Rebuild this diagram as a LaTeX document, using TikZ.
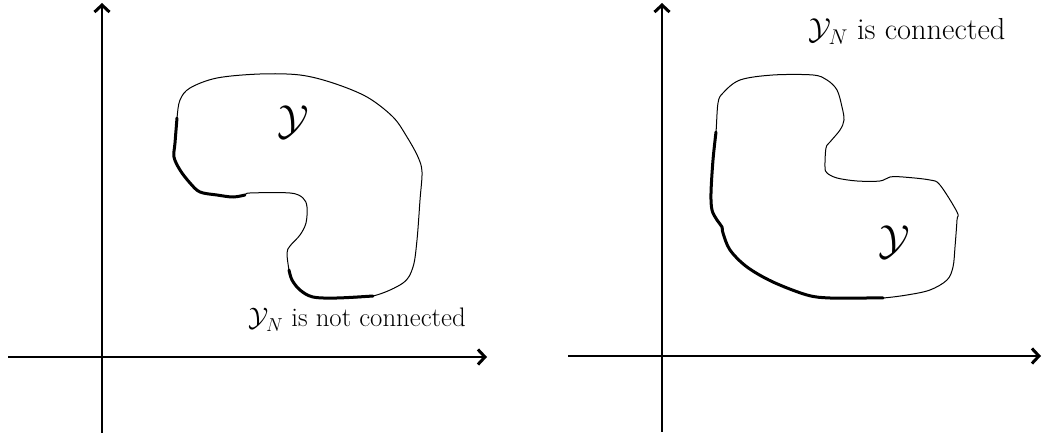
\RequirePackage{fix-cm}
\documentclass[tikz,border=0pt]{standalone}
\usetikzlibrary{arrows.meta}
\begin{document}
\begin{tikzpicture}[x=1pt,y=-1pt,
  axis/.style={line width=1.3pt,-{Straight Barb[length=7pt,width=15pt,line width=3pt]}},
  thin/.style={line width=1pt},
  bold/.style={line width=3pt,line cap=round},
  lbll/.style={font=\fontsize{26.8}{33}\selectfont,inner sep=0pt},
  lblr/.style={font=\fontsize{30.4}{37}\selectfont,inner sep=0pt},
  big/.style={font=\fontsize{42}{50}\selectfont,inner sep=0pt}]
\useasboundingbox (0,0) rectangle (1042,435);
% left axes
\coordinate (lx0) at (8,357); \coordinate (lx1) at (487,357);
\coordinate (ly0) at (102,433); \coordinate (ly1) at (102,3);
\draw[axis] (lx0) -- (lx1);
\draw[axis] (ly0) -- (ly1);
% right axes
\coordinate (rx0) at (568,356); \coordinate (rx1) at (1041,356);
\coordinate (ry0) at (662,432); \coordinate (ry1) at (662,3);
\draw[axis] (rx0) -- (rx1);
\draw[axis] (ry0) -- (ry1);
% left shape
\draw[thin] plot[smooth cycle,tension=0.55] coordinates {
 (177,118) (180,100) (190,88) (217,78) (260,74) (300,75) (333,83) (367,97) (393,117)
 (407,137) (418,157) (422,172) (420,200) (417,240) (413,267) (403,283) (373,296)
 (337,298) (313,297) (300,290) (292,280) (289,270) (287,253) (290,246) (300,235)
 (306,223) (307,207) (303,198) (290,193) (250,193) (245,195) (233,197) (217,195)
 (200,192) (190,183) (180,170) (174,157) (175,143)};
\draw[bold] plot[smooth,tension=0.55] coordinates {
 (177,118) (175,143) (174,157) (180,170) (190,183) (200,192) (217,195) (233,197) (245,195)};
\draw[bold] plot[smooth,tension=0.55] coordinates {
 (289,270) (292,280) (300,290) (313,297) (337,298) (373,296)};
% right shape
\draw[thin] plot[smooth cycle,tension=0.55] coordinates {
 (716,132) (718,103) (723,93) (740,80) (773,75) (813,75) (827,80) (837,90) (842,107)
 (844,120) (840,130) (830,142) (826,148) (825,167) (827,173) (837,178) (857,181)
 (880,181) (890,177) (903,177) (930,180) (940,185) (957,212) (957,220) (955,247)
 (953,267) (947,280) (930,290) (907,295) (883,298) (867,298) (830,298) (807,295)
 (773,282) (747,267) (730,250) (723,233) (722,227) (717,220) (712,210) (711,193)
 (713,160)};
\draw[bold] plot[smooth,tension=0.55] coordinates {
 (883,298) (867,298) (830,298) (807,295) (773,282) (747,267) (730,250) (723,233)
 (722,227) (717,220) (712,210) (711,193) (713,160) (716,132)};
% labels
\node[big] (yl) at (293.5,122) {$\mathcal{Y}$};
\node[big] (yr) at (894,242) {$\mathcal{Y}$};
\node[lbll,anchor=base west] (tl) at (248,327) {$\mathcal{Y}_N$ is not connected};
\node[lblr,anchor=base west] (tr) at (808,40) {$\mathcal{Y}_N$ is connected};
\end{tikzpicture}
\end{document}
